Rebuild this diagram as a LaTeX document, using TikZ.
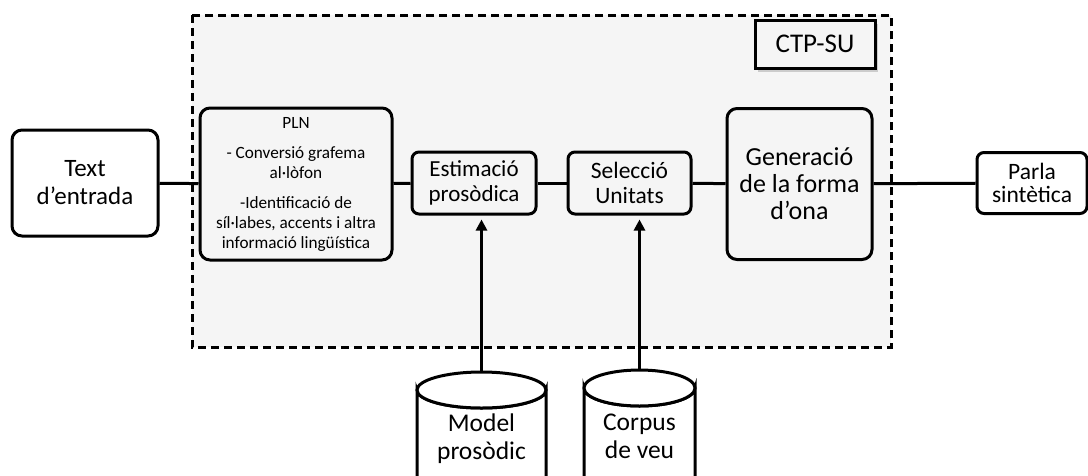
\documentclass[tikz,border=0pt]{standalone}
\usepackage{fontspec}
\setmainfont{Carlito}
\usetikzlibrary{arrows.meta,shadows}
\definecolor{bggray}{HTML}{F5F5F5}
\tikzset{
  box/.style={draw=black, line width=3pt, rounded corners=10pt, align=center, inner sep=0pt},
  smallbox/.style={box, rounded corners=7pt},
  conn/.style={line width=3pt},
  feed/.style={line width=3pt, -{Triangle[length=11pt,width=11pt]}, shorten >=4pt},
  cyl/.style={draw=black, line width=3pt, fill=white},
  cyltext/.style={align=center, inner sep=0pt, font=\fontsize{25.5}{28}\selectfont}
}
\begin{document}
\begin{tikzpicture}[x=1pt,y=-1pt]
\useasboundingbox (0,0) rectangle (1088,475);
\clip (0,0) rectangle (1088,475);
% dashed region
\draw[line width=3pt, dash pattern=on 8pt off 5pt, fill=bggray] (192,15) rectangle (891,347);
% nodes
\node[box, fill=white, minimum width=146pt, minimum height=106pt, font=\fontsize{25}{28}\selectfont] (txt) at (85,183) {Text\\d’entrada};
\node[box, fill=bggray, minimum width=192pt, minimum height=152pt, font=\fontsize{17.2}{20}\selectfont] (pln) at (296,184)
  {PLN\\[10pt]- Conversió grafema\\al·lòfon\\[10pt]-Identificació de\\síl·labes, accents i altra\\informació lingüística};
\node[smallbox, fill=bggray, minimum width=124pt, minimum height=62pt, font=\fontsize{23}{25}\selectfont] (est) at (474,183) {Estimació\\prosòdica};
\node[smallbox, fill=bggray, minimum width=123pt, minimum height=62pt, font=\fontsize{23.5}{25}\selectfont] (sel) at (629.5,183) {Selecció\\Unitats};
\node[box, fill=bggray, minimum width=145pt, minimum height=151pt, font=\fontsize{26}{27}\selectfont] (gen) at (799.5,184) {Generació\\de la forma\\d’ona};
\node[smallbox, fill=white, minimum width=110pt, minimum height=61pt, font=\fontsize{23.5}{23}\selectfont] (parla) at (1032,183) {Parla\\sintètica};
\node[draw=black, line width=3pt, fill=bggray, minimum width=120pt, minimum height=48pt, inner sep=0pt,
  drop shadow={shadow xshift=3pt, shadow yshift=-4pt, opacity=0.35}, font=\fontsize{27}{30}\selectfont] (ctp) at (815,44) {CTP-SU};
% connectors
\draw[conn] (txt) -- (pln);
\draw[conn] (pln) -- (est);
\draw[conn] (est) -- (sel);
\draw[conn] (sel) -- (gen);
\draw[conn] (gen) -- (parla);
% cylinders
\draw[cyl] (417,390) -- (417,500) -- (546,500) -- (546,390) arc[start angle=0, end angle=-180, x radius=64.5pt, y radius=18pt] -- cycle;
\draw[cyl] (481.5,390) ellipse[x radius=64.5pt, y radius=18pt];
\draw[cyl] (584,388) -- (584,500) -- (695,500) -- (695,388) arc[start angle=0, end angle=-180, x radius=55.5pt, y radius=18pt] -- cycle;
\draw[cyl] (639.5,388) ellipse[x radius=55.5pt, y radius=18pt];
\coordinate (mtop) at (481.5,372);
\coordinate (ctop) at (639.5,370);
\node[cyltext] (model) at (481.5,439) {Model\\prosòdic};
\node[cyltext] (corpus) at (639.5,436) {Corpus\\de veu};
\draw[feed] (mtop) -- (est.south -| mtop);
\draw[feed] (ctop) -- (sel.south -| ctop);
\end{tikzpicture}
\end{document}
